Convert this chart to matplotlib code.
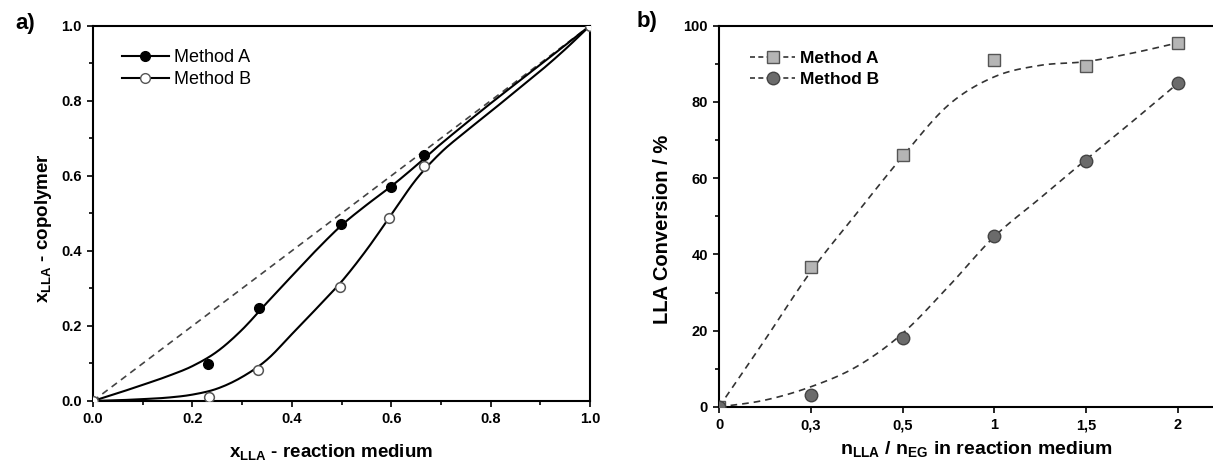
import numpy as np
import matplotlib
matplotlib.use("Agg")
import matplotlib.pyplot as plt
from matplotlib.lines import Line2D

plt.rcParams["font.family"] = ["Liberation Sans", "DejaVu Sans"]
plt.rcParams["mathtext.fontset"] = "custom"
plt.rcParams["mathtext.rm"] = "Liberation Sans:bold"
plt.rcParams["mathtext.bf"] = "Liberation Sans:bold"

# --- a) copolymer composition vs feed composition ---
feed_a = [0.231, 0.335, 0.499, 0.600, 0.667]
copo_a = [0.098, 0.247, 0.472, 0.570, 0.655]
feed_b = [0.0, 0.233, 0.331, 0.496, 0.596, 0.665, 1.0]
copo_b = [0.0, 0.010, 0.082, 0.305, 0.487, 0.627, 1.0]

# fitted trend lines
fit_a_x = [0.0, 0.05, 0.10, 0.15, 0.20, 0.25, 0.30, 0.35, 0.40, 0.45,
           0.50, 0.55, 0.60, 0.65, 0.70, 0.80, 0.90, 1.0]
fit_a_y = [0.0, 0.021, 0.043, 0.066, 0.093, 0.132, 0.190, 0.262, 0.333, 0.403,
           0.468, 0.522, 0.572, 0.627, 0.685, 0.793, 0.896, 1.0]
fit_b_x = [0.0, 0.05, 0.10, 0.15, 0.20, 0.25, 0.30, 0.35, 0.40, 0.45, 0.50,
           0.55, 0.60, 0.65, 0.70, 0.75, 0.80, 0.85, 0.90, 0.95, 1.0]
fit_b_y = [0.0, 0.002, 0.005, 0.009, 0.017, 0.033, 0.064, 0.110, 0.178, 0.247,
           0.318, 0.402, 0.496, 0.590, 0.662, 0.718, 0.771, 0.825, 0.879, 0.937,
           1.0]

# --- b) LLA conversion vs molar ratio ---
ratio_labels = ["0", "0,3", "0,5", "1", "1,5", "2"]
conv_a = [0.0, 36.6, 66.0, 91.0, 89.4, 95.5]
conv_b = [0.0, 3.1, 18.2, 44.8, 64.6, 84.9]

trend_pos = [0, 0.5, 1, 1.5, 2, 2.5, 3, 3.5, 4, 4.5, 5]
trend_a = [0, 17.6, 35.5, 50.8, 65.7, 79.2, 86.6, 89.6, 90.6, 92.8, 95.5]
trend_b = [0, 1.8, 5.3, 10.6, 19.3, 31.6, 44.7, 54.8, 64.9, 74.8, 84.9]


def smooth(x, y, n=12):
    """Catmull-Rom pass through the given points so the trend draws as a curve."""
    x = np.asarray(x, float)
    y = np.asarray(y, float)
    px = np.concatenate([[2 * x[0] - x[1]], x, [2 * x[-1] - x[-2]]])
    py = np.concatenate([[2 * y[0] - y[1]], y, [2 * y[-1] - y[-2]]])
    t = np.linspace(0, 1, n, endpoint=False)[:, None]
    xs, ys = [], []
    for i in range(1, len(px) - 2):
        for arr, out in ((px, xs), (py, ys)):
            p0, p1, p2, p3 = arr[i - 1:i + 3]
            out.append((0.5 * ((2 * p1) + (-p0 + p2) * t
                               + (2 * p0 - 5 * p1 + 4 * p2 - p3) * t ** 2
                               + (-p0 + 3 * p1 - 3 * p2 + p3) * t ** 3)).ravel())
    return np.concatenate(xs + [[x[-1]]]), np.concatenate(ys + [[y[-1]]])


def style_axes(ax, fs=10.5):
    ax.tick_params(which="both", direction="out", top=False, right=False,
                   width=1.2, labelsize=fs)
    ax.tick_params(which="major", length=4.5)
    ax.tick_params(which="minor", length=3)
    for sp in ax.spines.values():
        sp.set_linewidth(1.5)
    for lab in ax.get_xticklabels() + ax.get_yticklabels():
        lab.set_fontweight("bold")


fig = plt.figure(figsize=(12.13, 4.62), dpi=100)

# panel a
ax1 = fig.add_axes([93 / 1213, 61 / 462, 497 / 1213, 375.3 / 462])
ax1.plot([0, 1], [0, 1], ls=(0, (4, 3)), color="#444444", lw=1.2)
sx, sy = smooth(fit_a_x, fit_a_y)
ax1.plot(sx, sy, color="black", lw=1.5)
sx, sy = smooth(fit_b_x, fit_b_y)
ax1.plot(sx, sy, color="black", lw=1.5)
ax1.plot(feed_a, copo_a, "o", ms=7, mfc="black", mec="black", zorder=5)
ax1.plot(feed_b, copo_b, "o", ms=7, mfc="white", mec="#555555", mew=1.1, zorder=5)
ax1.set_xlim(0, 1)
ax1.set_ylim(0, 1)
ax1.set_xticks(np.arange(0, 1.01, 0.2))
ax1.set_yticks(np.arange(0, 1.01, 0.2))
ax1.set_xticks(np.arange(0.1, 1.0, 0.2), minor=True)
ax1.set_yticks(np.arange(0.1, 1.0, 0.2), minor=True)
ax1.xaxis.set_major_formatter(lambda v, p: f"{v:.1f}")
ax1.yaxis.set_major_formatter(lambda v, p: f"{v:.1f}")
style_axes(ax1)
ax1.set_xlabel(r"$\mathbf{x_{LLA}}$ - reaction medium", fontsize=13.5,
               fontweight="bold")
ax1.set_ylabel(r"$\mathbf{x_{LLA}}$ - copolymer", fontsize=13.5,
               fontweight="bold")
ax1.xaxis.set_label_coords(0.48, -0.11)
ax1.yaxis.set_label_coords(-0.078, 0.46)
leg_a = [Line2D([], [], color="black", lw=1.5, marker="o", ms=7, mfc="black",
                mec="black"),
         Line2D([], [], color="black", lw=1.5, marker="o", ms=7, mfc="white",
                mec="#555555")]
ax1.legend(leg_a, ["Method A", "Method B"], loc="upper left", frameon=False,
           fontsize=13, handlelength=2.6, handletextpad=0.3, labelspacing=0.25,
           bbox_to_anchor=(0.025, 0.98))
fig.text(25 / 1213, 1 - 23 / 462, "a)", fontsize=16, fontweight="bold",
         ha="center", va="center")

# panel b
pos = np.arange(len(ratio_labels))
ax2 = fig.add_axes([719 / 1213, 55 / 462, 514 / 1213, 381.3 / 462])
sx, sy = smooth(trend_pos, trend_a)
ax2.plot(sx, sy, ls=(0, (4, 3)), color="#333333", lw=1.2)
sx, sy = smooth(trend_pos, trend_b)
ax2.plot(sx, sy, ls=(0, (4, 3)), color="#333333", lw=1.2)
ax2.plot(pos, conv_a, "s", ms=8, mfc="#b5b5b5", mec="#555555", mew=1.0, zorder=5)
ax2.plot(pos, conv_b, "o", ms=9, mfc="#6b6b6b", mec="#444444", mew=1.0, zorder=5)
ax2.set_xlim(0, 5.6)
ax2.set_ylim(0, 100)
ax2.set_xticks(pos)
ax2.set_xticklabels(ratio_labels)
ax2.set_yticks(np.arange(0, 101, 20))
ax2.set_yticks(np.arange(10, 100, 20), minor=True)
style_axes(ax2)
ax2.set_xlabel(r"$\mathbf{n_{LLA}}$ / $\mathbf{n_{EG}}$ in reaction medium",
               fontsize=14, fontweight="bold")
ax2.set_ylabel("LLA Conversion / %", fontsize=14.5, fontweight="bold")
ax2.xaxis.set_label_coords(0.5, -0.085)
ax2.yaxis.set_label_coords(-0.091, 0.465)
leg_b = [Line2D([], [], color="#333333", lw=1.2, ls=(0, (3, 2)), marker="s", ms=8,
                mfc="#b5b5b5", mec="#555555"),
         Line2D([], [], color="#333333", lw=1.2, ls=(0, (3, 2)), marker="o", ms=9,
                mfc="#6b6b6b", mec="#444444")]
ax2.legend(leg_b, ["Method A", "Method B"], loc="upper left", frameon=False,
           handlelength=2.6, handletextpad=0.3, labelspacing=0.35,
           prop={"weight": "bold", "size": 12.5}, bbox_to_anchor=(0.03, 0.975))
fig.text(647 / 1213, 1 - 22 / 462, "b)", fontsize=16, fontweight="bold",
         ha="center", va="center")

fig.savefig("out.png", dpi=100)
